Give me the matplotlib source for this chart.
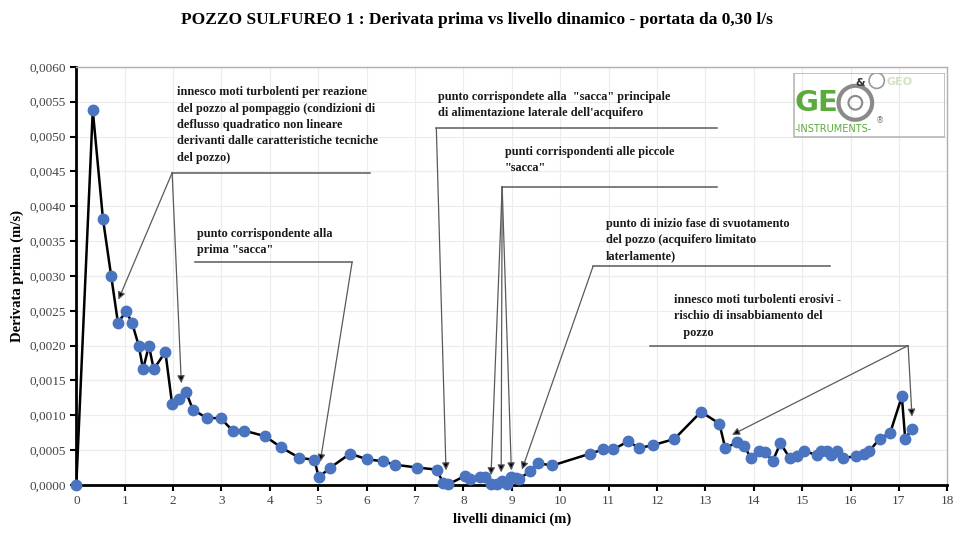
"""
POZZO SULFUREO 1 - derivata prima vs livello dinamico (portata 0,30 l/s).
"""
import matplotlib
matplotlib.use('Agg')
import matplotlib.pyplot as plt
from matplotlib.patches import Rectangle, Ellipse
from matplotlib.ticker import FuncFormatter, MultipleLocator

plt.rcParams['font.family'] = ['Liberation Serif', 'DejaVu Serif']

TITLE = "POZZO SULFUREO 1 : Derivata prima vs livello dinamico - portata da 0,30 l/s"

# livelli dinamici (m)
liv = [0.00, 0.34, 0.55, 0.72, 0.86, 1.03, 1.15, 1.29, 1.38, 1.50, 1.60, 1.84, 1.98, 2.13, 2.27,
       2.41, 2.70, 2.98, 3.23, 3.47, 3.90, 4.23, 4.61, 4.92, 5.01, 5.25, 5.66, 6.00, 6.33, 6.59,
       7.05, 7.45, 7.58, 7.69, 8.03, 8.14, 8.34, 8.44, 8.58, 8.69, 8.80, 8.90, 8.98, 9.08, 9.14,
       9.38, 9.55, 9.84, 10.62, 10.89, 11.10, 11.41, 11.62, 11.91, 12.36, 12.91, 13.29, 13.41,
       13.65, 13.80, 13.94, 14.10, 14.24, 14.39, 14.55, 14.75, 14.89, 15.03, 15.30, 15.39, 15.51,
       15.60, 15.73, 15.85, 16.12, 16.27, 16.39, 16.60, 16.82, 17.06, 17.13, 17.27]
# derivata prima (m/s)
der = [0.00000, 0.00538, 0.00382, 0.00300, 0.00233, 0.00249, 0.00233, 0.00200, 0.00166, 0.00200,
       0.00166, 0.00191, 0.00116, 0.00124, 0.00133, 0.00108, 0.00096, 0.00096, 0.00078, 0.00078,
       0.00070, 0.00054, 0.00039, 0.00036, 0.00011, 0.00025, 0.00045, 0.00037, 0.00034, 0.00029,
       0.00025, 0.00022, 0.00003, 0.00001, 0.00013, 0.00009, 0.00011, 0.00011, 0.00001, 0.00002,
       0.00005, 0.00002, 0.00011, 0.00010, 0.00008, 0.00020, 0.00031, 0.00028, 0.00045, 0.00051,
       0.00051, 0.00063, 0.00053, 0.00057, 0.00066, 0.00105, 0.00088, 0.00053, 0.00061, 0.00056,
       0.00039, 0.00049, 0.00047, 0.00034, 0.00060, 0.00038, 0.00042, 0.00049, 0.00043, 0.00049,
       0.00049, 0.00043, 0.00049, 0.00038, 0.00042, 0.00045, 0.00049, 0.00066, 0.00075, 0.00127,
       0.00066, 0.00081]

TXT_COL = '#1a1a1a'; LEAD = '#5a5a5a'

fig = plt.figure(figsize=(9.54, 5.35), dpi=100)
ax = fig.add_axes([0.080, 0.0935, 0.913, 0.7815])
ax.plot(liv, der, color='black', lw=1.8, zorder=3)
ax.plot(liv, der, ls='none', marker='o', ms=7.5, mfc='#4a74c0', mec='#4a74c0', zorder=4, clip_on=False)

ax.set_xlim(0, 18); ax.set_ylim(0, 0.006)
ax.xaxis.set_major_locator(MultipleLocator(1))
ax.yaxis.set_major_locator(MultipleLocator(0.0005))
ax.yaxis.set_major_formatter(FuncFormatter(lambda v, p: f"{v:.4f}".replace('.', ',')))
ax.grid(color='#ececec', lw=0.8, zorder=0)
for s in ('top', 'right'):
    ax.spines[s].set_color('#b0b0b0'); ax.spines[s].set_linewidth(1.0)
for s in ('left', 'bottom'):
    ax.spines[s].set_color('black'); ax.spines[s].set_linewidth(2.0)
ax.tick_params(direction='out', length=4, width=1.5, colors='black', labelcolor='#444', labelsize=9.5)
ax.set_xlabel('livelli dinamici (m)', fontsize=10.5, fontweight='bold', labelpad=4)
ax.set_ylabel('Derivata prima (m/s)', fontsize=10.5, fontweight='bold', labelpad=4)
fig.text(0.5, 0.962, TITLE, ha='center', va='center', fontsize=12.5, fontweight='bold')

def hline(x0, x1, y):
    ax.plot([x0, x1], [y, y], color=LEAD, lw=1.1, zorder=2)

def arrow(x0, y0, x1, y1):
    ax.annotate('', xy=(x1, y1), xytext=(x0, y0),
                arrowprops=dict(arrowstyle='-|>', color=LEAD, fc='black', lw=0.9,
                                mutation_scale=11, shrinkA=0, shrinkB=0), zorder=2)

kw = dict(fontsize=8.8, fontweight='bold', color=TXT_COL, va='top', ha='left', linespacing=1.48)

# 1 - innesco moti turbolenti
ax.text(2.08, 0.00572, "innesco moti turbolenti per reazione\ndel pozzo al pompaggio (condizioni di\n"
        "deflusso quadratico non lineare\nderivanti dalle caratteristiche tecniche\ndel pozzo)", **kw)
hline(1.98, 6.07, 0.00448)
arrow(1.98, 0.00448, 0.87, 0.00266)
arrow(1.98, 0.00448, 2.17, 0.00146)

# 2 - prima sacca
ax.text(2.50, 0.00369, "punto corrispondente alla\nprima \"sacca\"", **kw)
hline(2.46, 5.70, 0.00320)
arrow(5.70, 0.00320, 5.04, 0.00033)

# 3 - sacca principale
ax.text(7.48, 0.00566, "punto corrispondete alla  \"sacca\" principale\ndi alimentazione laterale dell'acquifero", **kw)
hline(7.44, 13.24, 0.00512)
arrow(7.44, 0.00512, 7.64, 0.00021)

# 4 - piccole sacca
ax.text(8.86, 0.00487, "punti corrispondenti alle piccole\n\"sacca\"", **kw)
hline(8.80, 13.24, 0.00428)
for tx, ty in [(8.57, 0.00014), (8.78, 0.00018), (8.99, 0.00021)]:
    arrow(8.80, 0.00428, tx, ty)

# 5 - svuotamento
ax.text(10.95, 0.00383, "punto di inizio fase di svuotamento\ndel pozzo (acquifero limitato\nlaterlamente)", **kw)
hline(10.68, 15.58, 0.00314)
arrow(10.68, 0.00314, 9.21, 0.00022)

# 6 - insabbiamento
ax.text(12.35, 0.00274, "innesco moti turbolenti erosivi -\nrischio di insabbiamento del\n   pozzo", **kw)
hline(11.86, 17.19, 0.00200)
arrow(17.19, 0.00200, 13.55, 0.00072)
arrow(17.19, 0.00200, 17.27, 0.00098)

# logo
lg = fig.add_axes([0.831, 0.742, 0.160, 0.122])
lg.set_xlim(0, 1); lg.set_ylim(0, 1); lg.axis('off')
lg.add_patch(Rectangle((0.005, 0.01), 0.99, 0.98, fill=False, ec='#b8b8b8', lw=1.2))
lg.text(0.01, 0.53, 'GE', color='#5aab3c', fontsize=21, fontweight='bold', family='DejaVu Sans',
        va='center', ha='left')
lg.add_patch(Ellipse((0.41, 0.54), 0.22, 0.52, fill=False, ec='#8a8a8a', lw=3))
lg.add_patch(Ellipse((0.41, 0.54), 0.09, 0.21, fill=False, ec='#8a8a8a', lw=1.5))
lg.text(0.44, 0.85, '&', fontsize=8, fontweight='bold', color='#333', family='DejaVu Sans', ha='center', va='center')
lg.add_patch(Ellipse((0.55, 0.88), 0.10, 0.24, fill=False, ec='#9a9a9a', lw=1.2))
lg.text(0.70, 0.86, 'GEO', fontsize=8, color='#cfe3c4', fontweight='bold', family='DejaVu Sans', ha='center', va='center')
lg.text(0.57, 0.26, '®', fontsize=6, color='#777', family='DejaVu Sans', ha='center', va='center')
lg.text(0.01, 0.14, '-INSTRUMENTS-', fontsize=7, color='#5aab3c', family='DejaVu Sans', ha='left', va='center')

fig.savefig('out.png', dpi=100)
